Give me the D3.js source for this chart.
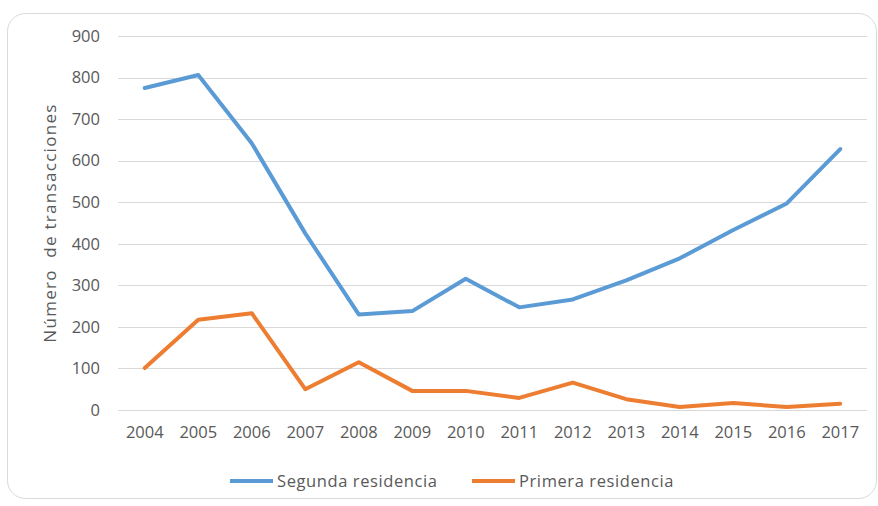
<!DOCTYPE html>
<html>
<head>
<meta charset="utf-8">
<script src="https://cdn.jsdelivr.net/npm/d3@7"></script>
<style>
  body { margin: 0; background: #fff; }
  text { font-family: "Open Sans", sans-serif; fill: #595959; }
</style>
</head>
<body>
<div class="chart"></div>
<script>
var years = ["2004", "2005", "2006", "2007", "2008", "2009", "2010",
             "2011", "2012", "2013", "2014", "2015", "2016", "2017"];
var segunda = [775, 806, 642, 425, 230, 238, 316, 247, 266, 312, 365, 433, 497, 628];
var primera = [101, 217, 233, 50, 115, 46, 46, 29, 66, 26, 7, 17, 7, 15];
var yTicks = [0, 100, 200, 300, 400, 500, 600, 700, 800, 900];
var seriesNames = ["Segunda residencia", "Primera residencia"];
var seriesColors = ["#5b9bd5", "#ed7d31"];

var svgWidth = 878;
var svgHeight = 506;

var margin = {
  top: 36,
  right: 11,
  bottom: 96,
  left: 118
};

var width = svgWidth - margin.left - margin.right;
var height = svgHeight - margin.top - margin.bottom;

var svg = d3.select(".chart")
  .append("svg")
  .attr("width", svgWidth)
  .attr("height", svgHeight);

// card frame
svg.append("rect")
  .attr("x", 7.5)
  .attr("y", 13.5)
  .attr("width", 869)
  .attr("height", 485)
  .attr("rx", 18)
  .attr("fill", "#fff")
  .attr("stroke", "#d9d9d9")
  .attr("stroke-width", 1);

var chartGroup = svg.append("g")
  .attr("transform", `translate(${margin.left}, ${margin.top})`);

var xScale = d3.scaleBand()
  .domain(years)
  .range([0, width]);

var yScale = d3.scaleLinear()
  .domain([0, 900])
  .range([height, 0]);

// gridlines
chartGroup.append("g")
  .selectAll("line")
  .data(yTicks)
  .enter()
  .append("line")
  .attr("x1", 0)
  .attr("x2", width)
  .attr("y1", d => Math.round(yScale(d)) + 0.5)
  .attr("y2", d => Math.round(yScale(d)) + 0.5)
  .attr("stroke", "#d9d9d9")
  .attr("stroke-width", 1);

// y axis
var leftAxis = d3.axisLeft(yScale).tickValues(yTicks).tickSize(0).tickPadding(18);
var yAxis = chartGroup.append("g").call(leftAxis);
yAxis.select(".domain").remove();
yAxis.selectAll("text")
  .style("font-size", "16.5px")
  .attr("fill", "#595959");

// x axis
var bottomAxis = d3.axisBottom(xScale).tickSize(0).tickPadding(16);
var xAxis = chartGroup.append("g")
  .attr("transform", `translate(0, ${height})`)
  .call(bottomAxis);
xAxis.select(".domain").remove();
xAxis.selectAll("text")
  .style("font-size", "16.5px")
  .attr("fill", "#595959");

// lines
var line = d3.line()
  .x((d, i) => xScale(years[i]) + xScale.bandwidth() / 2)
  .y(d => yScale(d));

[segunda, primera].forEach(function (values, i) {
  chartGroup.append("path")
    .datum(values)
    .attr("fill", "none")
    .attr("stroke", seriesColors[i])
    .attr("stroke-width", 4)
    .attr("stroke-linejoin", "round")
    .attr("stroke-linecap", "round")
    .attr("d", line);
});

// axis title
svg.append("text")
  .attr("transform", "rotate(-90)")
  .attr("x", -223)
  .attr("y", 56)
  .attr("text-anchor", "middle")
  .style("font-size", "17px")
  .style("letter-spacing", "1.3px")
  .style("white-space", "pre")
  .text("Número  de transacciones");

// legend
var legendX = [230, 472];
var legend = svg.append("g");
seriesNames.forEach(function (name, i) {
  legend.append("line")
    .attr("x1", legendX[i])
    .attr("x2", legendX[i] + 43)
    .attr("y1", 481)
    .attr("y2", 481)
    .attr("stroke", seriesColors[i])
    .attr("stroke-width", 4);
  legend.append("text")
    .attr("x", legendX[i] + 47)
    .attr("y", 487)
    .style("font-size", "16.5px")
    .style("letter-spacing", "0.6px")
    .text(name);
});
</script>
</body>
</html>
